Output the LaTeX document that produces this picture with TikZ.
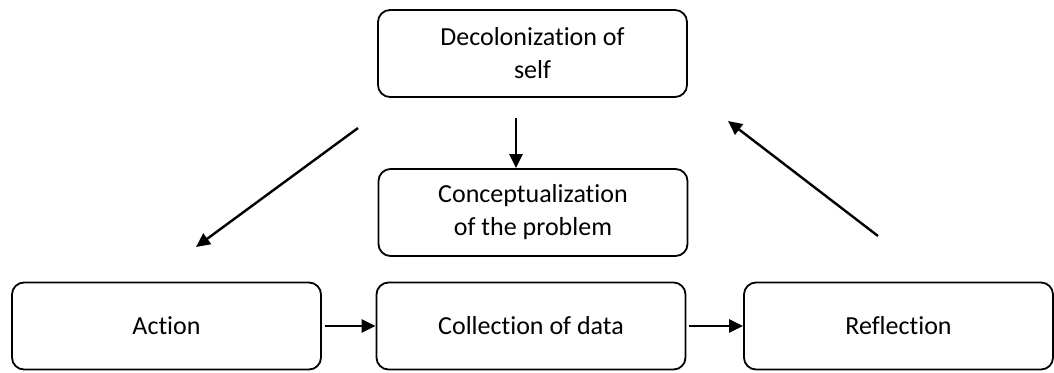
\documentclass[tikz,border=0pt]{standalone}
\usepackage{fontspec}
\setmainfont{Carlito}[Ligatures=NoCommon]
\usetikzlibrary{arrows.meta}
\tikzset{
  stagebox/.style={draw, rounded corners=12pt, line width=1.8pt, minimum width=309pt,
    minimum height=87pt, align=center, inner sep=2pt, font=\fontsize{26}{33}\selectfont},
  flow/.style={-{Triangle[length=14pt,width=13pt]}, line width=2.4pt}
}
\begin{document}
\begin{tikzpicture}[x=1pt,y=-1pt]
		\useasboundingbox (0,0) rectangle (1054,372);
		\node[stagebox] at (532.5,53.5)(self){Decolonization of\\self};
		\node[stagebox] at (533,212.5)(prob){Conceptualization\\of the problem};
		\node[stagebox] at (166.5,326)(act){Action};
		\node[stagebox] at (531,326)(coll){Collection of data};
		\node[stagebox] at (898.5,326)(refl){Reflection};

		\coordinate (d0) at (516,118);
		\coordinate (l0) at (358,128);
		\coordinate (l1) at (196,247);
		\coordinate (r0) at (878,236);
		\coordinate (r1) at (728,121);

		\draw[flow] (d0) -- (d0 |- prob.north);
		\draw[flow] (l0) -- (l1);
		\draw[flow] (r0) -- (r1);
		\path[flow, shorten <=3pt] (act) edge (coll)(coll) edge (refl);
	\end{tikzpicture}
\end{document}
